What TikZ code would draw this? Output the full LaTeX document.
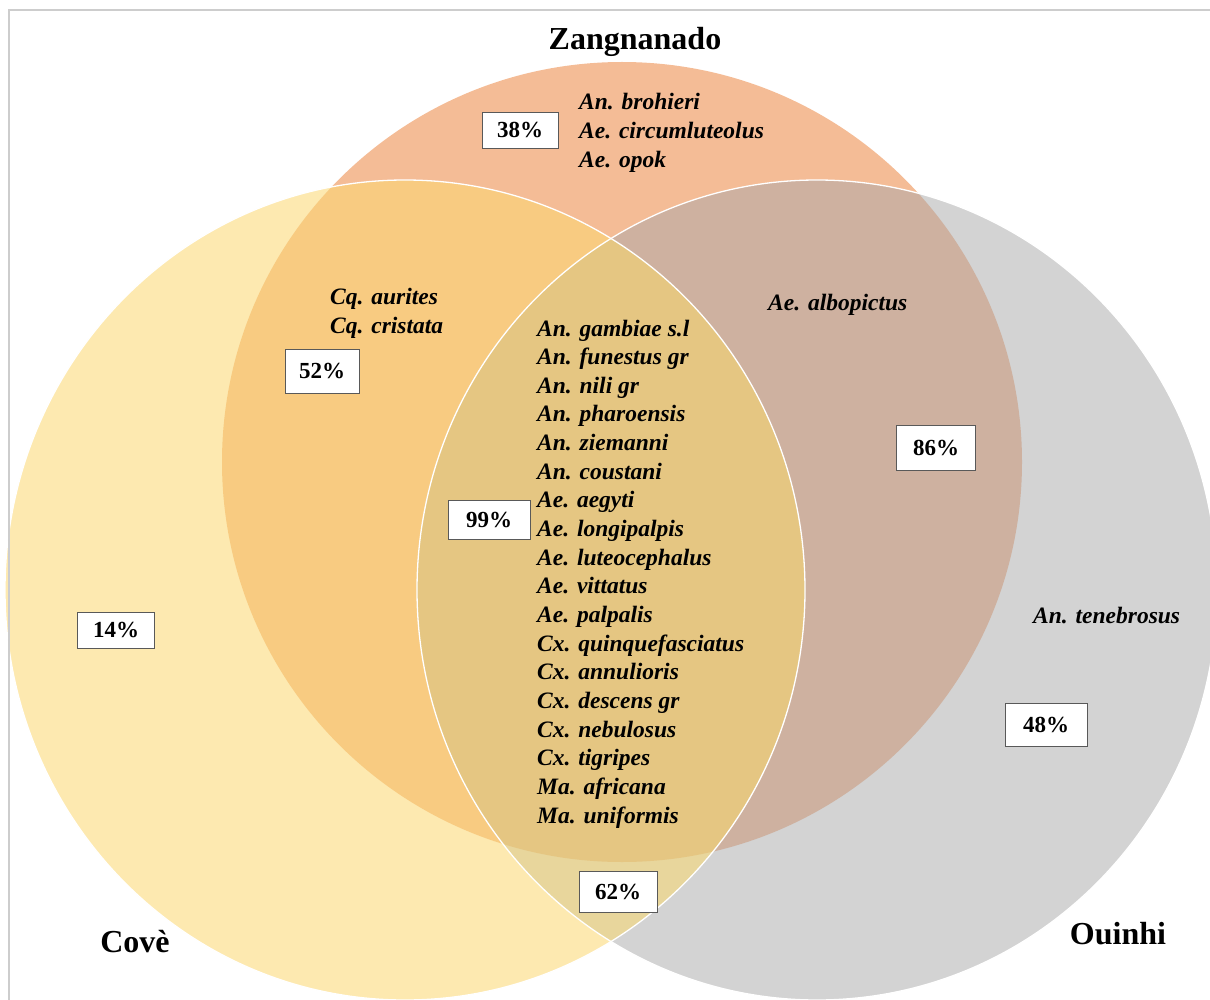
\documentclass[tikz,border=0pt]{standalone}
\usepackage{fontspec}
\setmainfont{Liberation Serif}
\definecolor{cZ}{RGB}{244,188,150}
\definecolor{cC}{RGB}{253,233,176}
\definecolor{cO}{RGB}{211,211,211}
\definecolor{cZC}{RGB}{248,203,129}
\definecolor{cZO}{RGB}{206,177,160}
\definecolor{cCO}{RGB}{232,214,156}
\definecolor{cZCO}{RGB}{229,198,130}
\definecolor{frame}{RGB}{205,205,205}
\begin{document}
\begin{tikzpicture}[x=1pt,y=-1pt,
  pct/.style={draw=black!65, line width=0.9pt, fill=white, font=\fontsize{23}{28}\selectfont\bfseries, inner sep=0pt},
  sp/.style={anchor=base west, font=\fontsize{23.5}{28}\selectfont\bfseries\itshape, inner sep=0pt},
  ttl/.style={font=\fontsize{32}{38}\selectfont\bfseries, inner sep=0pt},
  rim/.style={draw=white, line width=1.3pt}]
\useasboundingbox (0,0) rectangle (1210,1000);
\begin{scope}
\clip (0,0) rectangle (1210,1000);
% base sets
\fill[cZ] (622,462) ellipse [x radius=400pt, y radius=400pt];
\fill[cC] (405,590) ellipse [x radius=400pt, y radius=410pt];
\fill[cO] (817,590) ellipse [x radius=400pt, y radius=410pt];
% pairwise with Zangnanado
\begin{scope}
\clip (622,462) ellipse [x radius=400pt, y radius=400pt];
\fill[cZC] (405,590) ellipse [x radius=400pt, y radius=410pt];
\fill[cZO] (817,590) ellipse [x radius=400pt, y radius=410pt];
\end{scope}
% Cove and Ouinhi
\begin{scope}
\clip (405,590) ellipse [x radius=400pt, y radius=410pt];
\fill[cCO] (817,590) ellipse [x radius=400pt, y radius=410pt];
\clip (622,462) ellipse [x radius=400pt, y radius=400pt];
\fill[cZCO] (817,590) ellipse [x radius=400pt, y radius=410pt];
\end{scope}
% white rims
\draw[rim] (405,590) ellipse [x radius=400pt, y radius=410pt];
\draw[rim] (817,590) ellipse [x radius=400pt, y radius=410pt];
\end{scope}
% frame
\draw[frame, line width=1.5pt] (9,1000) -- (9,10) -- (1210,10);
% titles
\node[ttl] (tZ) at (635,42) {Zangnanado};
\node[ttl] (tC) at (135,942) {Covè};
\node[ttl] (tO) at (1118,934) {Ouinhi};
% Zangnanado only
\node[sp] (z1) at (579,110) {An. brohieri};
\node[sp] (z2) at (579,139) {Ae. circumluteolus};
\node[sp] (z3) at (579,168) {Ae. opok};
% Z and C
\node[sp] (q1) at (330,305) {Cq. aurites};
\node[sp] (q2) at (330,334) {Cq. cristata};
% Z and O
\node[sp] (a1) at (768,310) {Ae. albopictus};
% O only
\node[sp] (t1) at (1033,623) {An. tenebrosus};
% all three
\foreach \s [count=\i from 0] in {An. gambiae s.l, An. funestus gr, An. nili gr, An. pharoensis, An. ziemanni, An. coustani, Ae. aegyti, Ae. longipalpis, Ae. luteocephalus, Ae. vittatus, Ae. palpalis, Cx. quinquefasciatus, Cx. annulioris, Cx. descens gr, Cx. nebulosus, Cx. tigripes, Ma. africana, Ma. uniformis}
  \node[sp] (c\i) at (537,{336+28.65*\i}) {\s};
% percentage boxes
\node[pct, minimum width=76pt, minimum height=36pt] (p38) at (520,130) {38\%};
\node[pct, minimum width=74pt, minimum height=44pt] (p52) at (322,371) {52\%};
\node[pct, minimum width=82pt, minimum height=39pt] (p99) at (489,520) {99\%};
\node[pct, minimum width=79pt, minimum height=45pt] (p86) at (936,448) {86\%};
\node[pct, minimum width=77pt, minimum height=36pt] (p14) at (116,630) {14\%};
\node[pct, minimum width=82pt, minimum height=43pt] (p48) at (1046,725) {48\%};
\node[pct, minimum width=78pt, minimum height=41pt] (p62) at (618,892) {62\%};
\end{tikzpicture}
\end{document}
